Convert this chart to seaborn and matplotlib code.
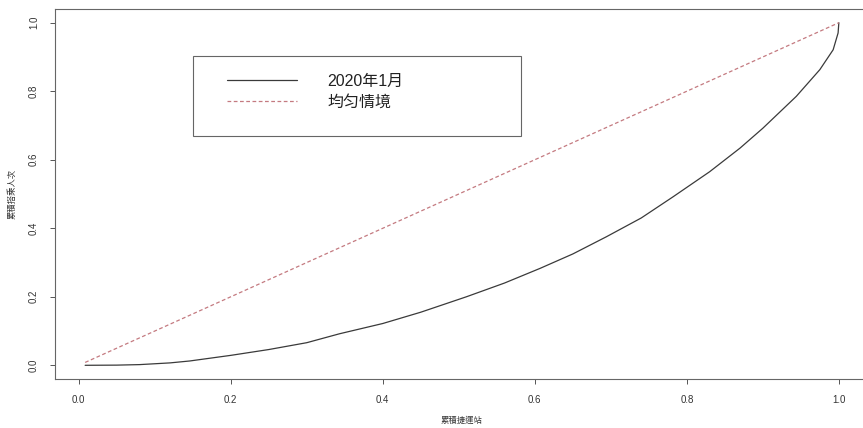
import matplotlib

matplotlib.use("Agg")
import matplotlib.pyplot as plt
import pandas as pd
import seaborn as sns
from matplotlib.patches import Rectangle

# cumulative share of stations vs cumulative share of ridership
station_share = [0.0084, 0.05, 0.08, 0.12, 0.146, 0.20, 0.25, 0.30, 0.343, 0.40,
                 0.45, 0.51, 0.56, 0.607, 0.65, 0.694, 0.74, 0.782, 0.83, 0.870,
                 0.900, 0.944, 0.975, 0.9925, 0.999, 1.0]
ridership_share = [0.0, 0.0005, 0.002, 0.007, 0.0126, 0.029, 0.046, 0.066, 0.092, 0.122,
                   0.155, 0.200, 0.240, 0.283, 0.325, 0.375, 0.430, 0.492, 0.565, 0.634,
                   0.692, 0.785, 0.863, 0.921, 0.970, 1.0]
equal_x = [0.0084, 1.0]
equal_y = [0.0084, 1.0]

series_labels = ["2020年1月", "均匀情境"]
x_ticks = [0.0, 0.2, 0.4, 0.6, 0.8, 1.0]
y_ticks = [0.0, 0.2, 0.4, 0.6, 0.8, 1.0]
x_label = "累積捷運站"
y_label = "累積搭乘人次"

sns.set_style("white")
plt.rcParams["font.family"] = ["Liberation Sans", "Noto Sans CJK TC", "DejaVu Sans"]

W, H = 863, 428
fig = plt.figure(figsize=(W / 100, H / 100), dpi=100)
# axes box: left 55px, top 9px, bottom 379px, right edge cropped off the image
ax = fig.add_axes([55 / W, (H - 379) / H, (869 - 55) / W, (379 - 9) / H])

curve = pd.DataFrame({"x": station_share, "y": ridership_share})
equal = pd.DataFrame({"x": equal_x, "y": equal_y})

sns.lineplot(data=curve, x="x", y="y", ax=ax, color="#3a3a3a", linewidth=0.9,
             label=series_labels[0], estimator=None, sort=False)
sns.lineplot(data=equal, x="x", y="y", ax=ax, color="#c47a80", linewidth=0.9,
             label=series_labels[1], estimator=None)
ax.lines[1].set_dashes((3, 2))

xr = 1.0 - equal_x[0]
ax.set_xlim(equal_x[0] - 0.04 * xr, 1.0 + 0.04 * xr)
ax.set_ylim(-0.04, 1.04)
ax.set_xticks(x_ticks)
ax.set_yticks(y_ticks)
ax.set_xticklabels([f"{t:.1f}" for t in x_ticks])
ax.set_yticklabels([f"{t:.1f}" for t in y_ticks], rotation=90, va="center")
ax.tick_params(axis="both", length=3.5, width=0.7, color="#555555",
               labelsize=7, labelcolor="#333333", pad=8, direction="out",
               bottom=True, left=True)
ax.set_xlabel(x_label, fontsize=6, color="#333333", labelpad=8)
ax.set_ylabel(y_label, fontsize=6, color="#333333", labelpad=9)

for side, spine in ax.spines.items():
    spine.set_visible(side != "right")
    spine.set_color("#666666")
    spine.set_linewidth(0.8)

# legend: framed box drawn separately, entries placed inside it
handles, labels = ax.get_legend_handles_labels()
ax.legend(handles, labels, frameon=False, loc="center left",
          bbox_to_anchor=(227 / W, 1 - 91.5 / H), bbox_transform=fig.transFigure,
          borderpad=0, borderaxespad=0, handlelength=4.4, handletextpad=1.9,
          labelspacing=0.35, fontsize=11.5, labelcolor="#222222")
fig.patches.append(Rectangle((193 / W, 1 - 136 / H), (521 - 193) / W, (136 - 56) / H,
                             transform=fig.transFigure, fill=False,
                             edgecolor="#666666", linewidth=0.8))

fig.savefig("out.png", dpi=100)
